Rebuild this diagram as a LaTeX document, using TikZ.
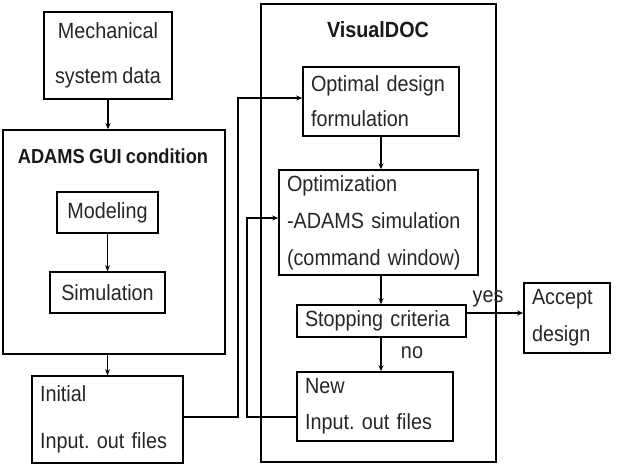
\documentclass[tikz,border=0pt]{standalone}
\usepackage{fontspec}
\setmainfont{Liberation Sans}[FakeStretch=0.9, WordSpace=0.85]
\usetikzlibrary{arrows.meta}
\frenchspacing
\begin{document}
\begin{tikzpicture}[x=1pt,y=-1pt,
  box/.style={draw, line width=1.6pt, rectangle, inner sep=0pt, text=black!85},
  lbox/.style={box, inner xsep=8pt, align=left},
  cbox/.style={box, align=center},
  title/.style={inner sep=0pt, text=black!90},
  lbl/.style={inner sep=0pt, text=black!85, font=\fontsize{22}{24}\selectfont},
  conn/.style={line width=1.7pt},
  arr/.style={conn, -{Stealth[length=6pt,width=5pt]}}]
\useasboundingbox (0,0) rectangle (617,466);
% containers
\node[box, minimum width=222pt, minimum height=224pt] (adams) at (114,242) {};
\node[title, font=\bfseries\fontsize{20.3}{22}\selectfont] (adamst) at (113,156) {ADAMS GUI condition};
\node[box, minimum width=235pt, minimum height=458pt] (vdoc) at (378.5,233) {};
\node[title, font=\bfseries\fontsize{22}{24}\selectfont] (vdoct) at (378,30) {VisualDOC};
% boxes
\node[cbox, minimum width=128pt, minimum height=87pt, font=\fontsize{22}{45}\selectfont] (mech) at (108,55.5) {Mechanical\\system data};
\node[cbox, minimum width=101pt, minimum height=41pt, font=\fontsize{22}{24}\selectfont] (model) at (107.5,212.5) {Modeling};
\node[cbox, minimum width=115pt, minimum height=41pt, font=\fontsize{22}{24}\selectfont] (sim) at (107.5,292.5) {Simulation};
\node[lbox, minimum width=151pt, minimum height=87pt, text width=135pt, font=\fontsize{22}{47}\selectfont] (init) at (107.5,419.5) {Initial\\Input. out files};
\node[lbox, minimum width=156pt, minimum height=69pt, text width=140pt, font=\fontsize{22}{35}\selectfont] (optimal) at (381,101.5) {Optimal design\\formulation};
\node[lbox, minimum width=199pt, minimum height=105pt, text width=183pt, font=\fontsize{22}{37}\selectfont] (optim) at (378.5,222.5) {Optimization\\-ADAMS simulation\\(command window)};
\node[lbox, minimum width=169pt, minimum height=32pt, text width=153pt, font=\fontsize{22}{24}\selectfont] (stop) at (381.5,321) {Stopping criteria};
\node[lbox, minimum width=86pt, minimum height=70pt, text width=70pt, font=\fontsize{22}{37}\selectfont] (accept) at (567,318) {Accept\\design};
\node[lbox, minimum width=156pt, minimum height=69pt, text width=140pt, font=\fontsize{22}{36}\selectfont] (new) at (375,406.5) {New\\Input. out files};
% connectors
\draw[arr] (mech.south) -- (mech.south |- adams.north);
\draw[arr] (model.south) -- (sim.north);
\draw[arr] (init.north |- adams.south) -- (init.north);
\draw[arr] ([yshift=2.5pt]init.east) -- ++(54,0) |- ([yshift=3.5pt]optimal.west);
\draw[arr] (optimal.south) -- (optimal.south |- optim.north);
\draw[arr] (optimal.south |- optim.south) -- (optimal.south |- stop.north);
\draw[arr] ([yshift=8pt]stop.east) -- ([yshift=8pt]stop.east -| accept.west);
\draw[arr] (optimal.south |- stop.south) -- (optimal.south |- new.north);
\draw[arr] ([yshift=-10.5pt]new.west) -- ++(-49,0) |- ([yshift=4.5pt]optim.west);
% labels
\node[lbl] (yes) at (488,299) {yes};
\node[lbl] (no) at (412,353) {no};
\end{tikzpicture}
\end{document}
